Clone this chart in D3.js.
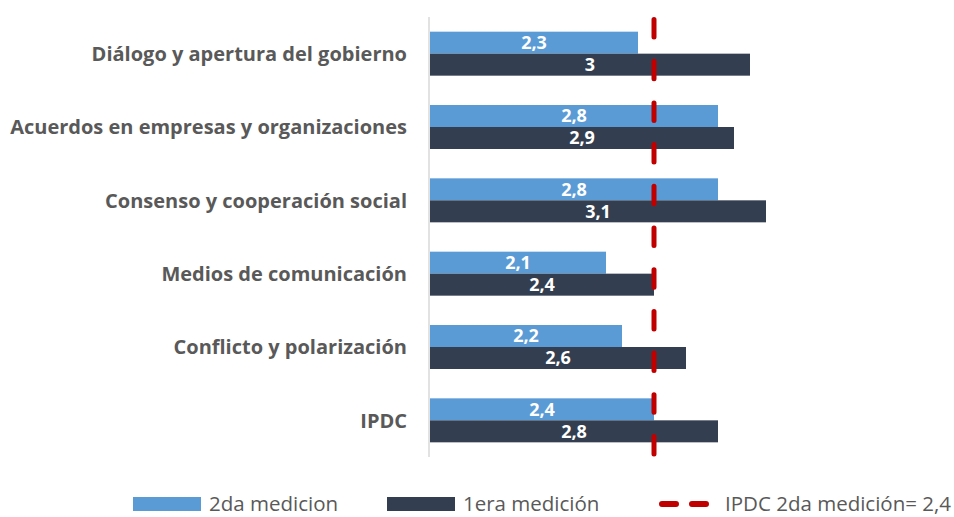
<!doctype html>
<html>
<head>
<meta charset="utf-8">
<script src="https://cdn.jsdelivr.net/npm/d3@7"></script>
<style>
  body { margin: 0; background: #fff; }
  svg { display: block; font-family: "Open Sans", sans-serif; }
</style>
</head>
<body>
<script>
const categories = [
  "Diálogo y apertura del gobierno",
  "Acuerdos en empresas y organizaciones",
  "Consenso y cooperación social",
  "Medios de comunicación",
  "Conflicto y polarización",
  "IPDC"
];
const segunda = [2.3, 2.8, 2.8, 2.1, 2.2, 2.4];
const primera = [3.0, 2.9, 3.1, 2.4, 2.6, 2.8];
const seriesNames = ["2da medicion", "1era medición"];
const refValue = 2.4;
const refLabel = "IPDC 2da medición= 2,4";

const width = 954, height = 517;
const colors = ["#5B9BD5", "#333F50"];
const red = "#C00000";

const data = categories.map((c, i) => ({cat: c, values: [segunda[i], primera[i]]}));

const svg = d3.select("body").append("svg")
    .attr("width", width)
    .attr("height", height);

const x = d3.scaleLinear().domain([1, 4]).range([430, 910]);
const y = d3.scaleBand().domain(categories).range([17, 457])
    .paddingInner(0.4).paddingOuter(0.2);
const ySub = d3.scaleBand().domain([0, 1]).range([0, y.bandwidth()]);

const fmt = v => d3.format(".2~f")(v).replace(".", ",");

// bars
const g = svg.append("g")
  .selectAll("g")
  .data(data)
  .join("g")
    .attr("transform", d => `translate(0,${y(d.cat)})`);

g.selectAll("rect")
  .data(d => d.values)
  .join("rect")
    .attr("x", x(1))
    .attr("y", (v, i) => ySub(i))
    .attr("width", v => x(v) - x(1))
    .attr("height", ySub.bandwidth())
    .attr("fill", (v, i) => colors[i]);

g.selectAll("text")
  .data(d => d.values)
  .join("text")
    .attr("x", v => (x(1) + x(v)) / 2)
    .attr("y", (v, i) => ySub(i) + ySub.bandwidth() / 2)
    .attr("dy", "0.36em")
    .attr("text-anchor", "middle")
    .attr("fill", "#fff")
    .attr("font-weight", "bold")
    .attr("font-size", 18)
    .text(fmt);

// axis line
svg.append("line")
    .attr("x1", x(1) - 1).attr("x2", x(1) - 1)
    .attr("y1", 17).attr("y2", 457)
    .attr("stroke", "#d9d9d9")
    .attr("stroke-width", 1.5);

// category labels
svg.append("g")
  .selectAll("text")
  .data(categories)
  .join("text")
    .attr("x", 407)
    .attr("y", d => y(d) + y.bandwidth() / 2)
    .attr("dy", "0.36em")
    .attr("text-anchor", "end")
    .attr("fill", "#595959")
    .attr("font-weight", "bold")
    .attr("font-size", 20)
    .text(d => d);

// reference line
svg.append("line")
    .attr("x1", x(refValue)).attr("x2", x(refValue))
    .attr("y1", 19.5).attr("y2", 458)
    .attr("stroke", red)
    .attr("stroke-width", 5)
    .attr("stroke-linecap", "round")
    .attr("stroke-dasharray", "17.5,24.2");

// legend
const leg = svg.append("g").attr("font-size", 20.5).attr("fill", "#595959");
const legItems = [
  {type: "rect", color: colors[0], label: seriesNames[0], x: 133},
  {type: "rect", color: colors[1], label: seriesNames[1], x: 387},
  {type: "line", color: red, label: refLabel, x: 657}
];
const li = leg.selectAll("g").data(legItems).join("g")
    .attr("transform", d => `translate(${d.x},504)`);
li.filter(d => d.type === "rect").append("rect")
    .attr("y", -7).attr("width", 68).attr("height", 14)
    .attr("fill", d => d.color);
li.filter(d => d.type === "line").append("line")
    .attr("x1", 5).attr("x2", 53)
    .attr("stroke", d => d.color)
    .attr("stroke-width", 6)
    .attr("stroke-linecap", "round")
    .attr("stroke-dasharray", "14,16");
li.append("text")
    .attr("dy", "0.36em")
    .attr("x", d => d.type === "line" ? 68 : 76)
    .text(d => d.label);
</script>
</body>
</html>
